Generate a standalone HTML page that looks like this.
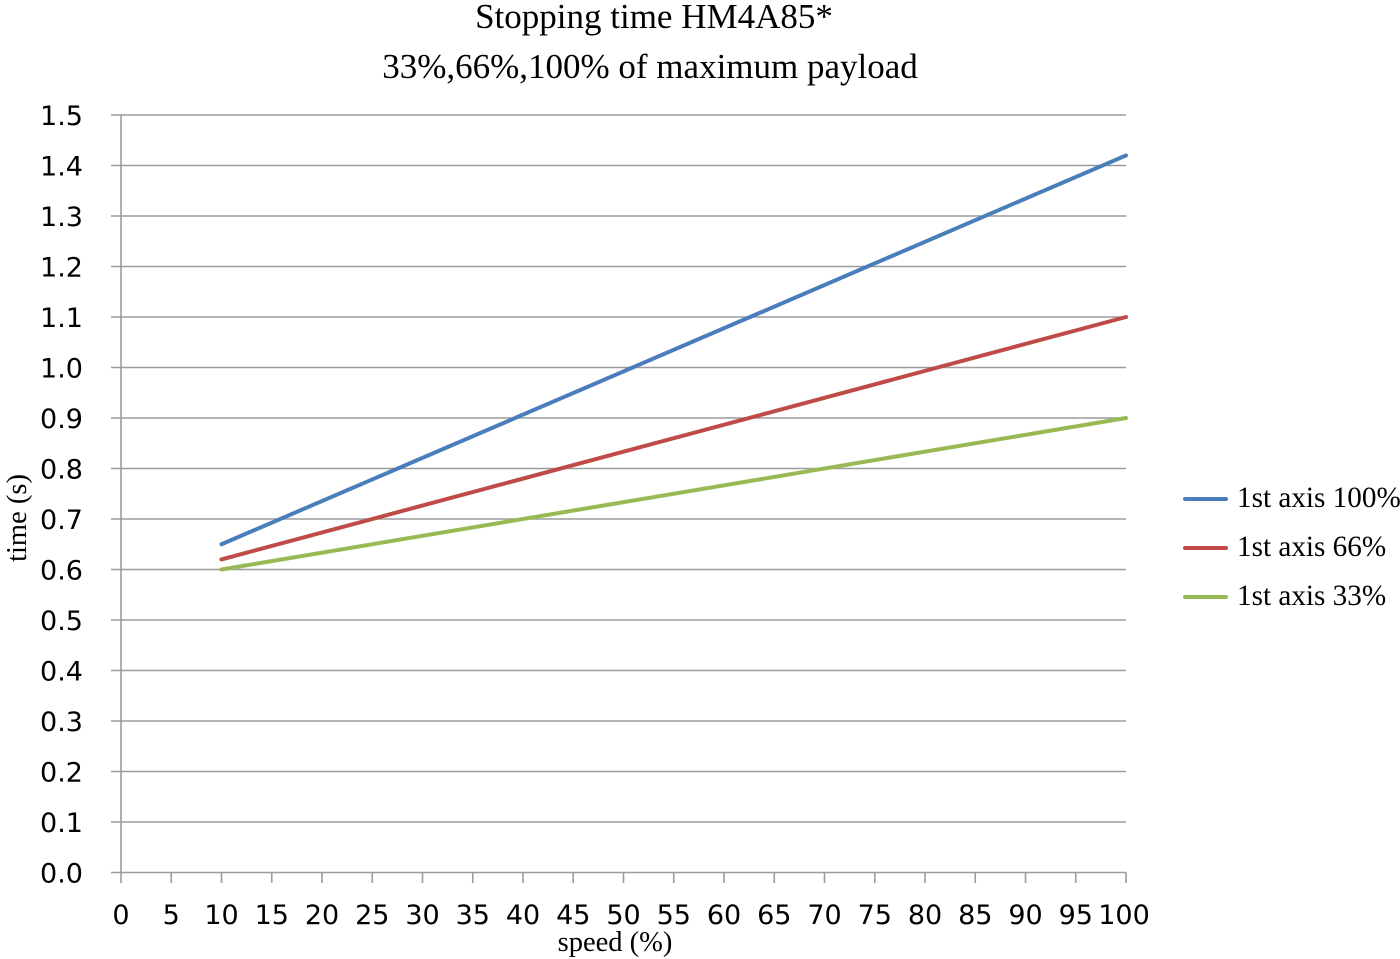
<!DOCTYPE html>
<html>
<head>
<meta charset="utf-8">
<style>
  html, body { margin:0; padding:0; background:#fff; }
  svg { display:block; }
  .tick { font-family: "DejaVu Sans", "Liberation Sans", sans-serif; font-size:27px; fill:#000; }
  .serif { font-family: "Liberation Serif", serif; fill:#000; }
</style>
</head>
<body>
<svg width="1400" height="959" viewBox="0 0 1400 959" xmlns="http://www.w3.org/2000/svg">
  <rect width="1400" height="959" fill="#fff"/>
  <!-- Title -->
  <text class="serif" x="654" y="28" font-size="35" text-anchor="middle">Stopping time HM4A85*</text>
  <text class="serif" x="650" y="78" font-size="35" text-anchor="middle">33%,66%,100% of maximum payload</text>

  <!-- Gridlines -->
  <g stroke="#9c9c9c" stroke-width="1.6">
    <line x1="111" y1="115" x2="1126" y2="115"/>
    <line x1="111" y1="165.5" x2="1126" y2="165.5"/>
    <line x1="111" y1="216" x2="1126" y2="216"/>
    <line x1="111" y1="266.5" x2="1126" y2="266.5"/>
    <line x1="111" y1="317" x2="1126" y2="317"/>
    <line x1="111" y1="367.5" x2="1126" y2="367.5"/>
    <line x1="111" y1="418" x2="1126" y2="418"/>
    <line x1="111" y1="468.5" x2="1126" y2="468.5"/>
    <line x1="111" y1="519" x2="1126" y2="519"/>
    <line x1="111" y1="569.5" x2="1126" y2="569.5"/>
    <line x1="111" y1="620" x2="1126" y2="620"/>
    <line x1="111" y1="670.5" x2="1126" y2="670.5"/>
    <line x1="111" y1="721" x2="1126" y2="721"/>
    <line x1="111" y1="771.5" x2="1126" y2="771.5"/>
    <line x1="111" y1="822" x2="1126" y2="822"/>
    <line x1="111" y1="872.5" x2="1126" y2="872.5"/>
    <!-- y axis -->
    <line x1="121" y1="115" x2="121" y2="883"/>
    <!-- x ticks -->
    <line x1="171.25" y1="872.5" x2="171.25" y2="883"/>
    <line x1="221.5" y1="872.5" x2="221.5" y2="883"/>
    <line x1="271.75" y1="872.5" x2="271.75" y2="883"/>
    <line x1="322" y1="872.5" x2="322" y2="883"/>
    <line x1="372.25" y1="872.5" x2="372.25" y2="883"/>
    <line x1="422.5" y1="872.5" x2="422.5" y2="883"/>
    <line x1="472.75" y1="872.5" x2="472.75" y2="883"/>
    <line x1="523" y1="872.5" x2="523" y2="883"/>
    <line x1="573.25" y1="872.5" x2="573.25" y2="883"/>
    <line x1="623.5" y1="872.5" x2="623.5" y2="883"/>
    <line x1="673.75" y1="872.5" x2="673.75" y2="883"/>
    <line x1="724" y1="872.5" x2="724" y2="883"/>
    <line x1="774.25" y1="872.5" x2="774.25" y2="883"/>
    <line x1="824.5" y1="872.5" x2="824.5" y2="883"/>
    <line x1="874.75" y1="872.5" x2="874.75" y2="883"/>
    <line x1="925" y1="872.5" x2="925" y2="883"/>
    <line x1="975.25" y1="872.5" x2="975.25" y2="883"/>
    <line x1="1025.5" y1="872.5" x2="1025.5" y2="883"/>
    <line x1="1075.75" y1="872.5" x2="1075.75" y2="883"/>
    <line x1="1126" y1="872.5" x2="1126" y2="883"/>
  </g>

  <!-- Y tick labels -->
  <g class="tick" text-anchor="end">
    <text x="83" y="125">1.5</text>
    <text x="83" y="175.5">1.4</text>
    <text x="83" y="226">1.3</text>
    <text x="83" y="276.5">1.2</text>
    <text x="83" y="327">1.1</text>
    <text x="83" y="377.5">1.0</text>
    <text x="83" y="428">0.9</text>
    <text x="83" y="478.5">0.8</text>
    <text x="83" y="529">0.7</text>
    <text x="83" y="579.5">0.6</text>
    <text x="83" y="630">0.5</text>
    <text x="83" y="680.5">0.4</text>
    <text x="83" y="731">0.3</text>
    <text x="83" y="781.5">0.2</text>
    <text x="83" y="832">0.1</text>
    <text x="83" y="882.5">0.0</text>
  </g>

  <!-- X tick labels -->
  <g class="tick" text-anchor="middle">
    <text x="121" y="924">0</text>
    <text x="171.25" y="924">5</text>
    <text x="221.5" y="924">10</text>
    <text x="271.75" y="924">15</text>
    <text x="322" y="924">20</text>
    <text x="372.25" y="924">25</text>
    <text x="422.5" y="924">30</text>
    <text x="472.75" y="924">35</text>
    <text x="523" y="924">40</text>
    <text x="573.25" y="924">45</text>
    <text x="623.5" y="924">50</text>
    <text x="673.75" y="924">55</text>
    <text x="724" y="924">60</text>
    <text x="774.25" y="924">65</text>
    <text x="824.5" y="924">70</text>
    <text x="874.75" y="924">75</text>
    <text x="925" y="924">80</text>
    <text x="975.25" y="924">85</text>
    <text x="1025.5" y="924">90</text>
    <text x="1075.75" y="924">95</text>
    <text x="1124" y="924">100</text>
  </g>

  <!-- Axis titles -->
  <text class="serif" font-size="28.5" text-anchor="middle" transform="translate(26,518) rotate(-90)">time (s)</text>
  <text class="serif" x="615" y="951" font-size="28.5" text-anchor="middle">speed (%)</text>

  <!-- Series -->
  <g stroke-width="4" stroke-linecap="round" fill="none">
    <line x1="221.5" y1="544.25" x2="1126" y2="155.4" stroke="#4a7ebb"/>
    <line x1="221.5" y1="559.4" x2="1126" y2="317" stroke="#be4b48"/>
    <line x1="221.5" y1="569.5" x2="1126" y2="418" stroke="#98b954"/>
  </g>

  <!-- Legend -->
  <g stroke-width="4" stroke-linecap="round">
    <line x1="1185" y1="499" x2="1226" y2="499" stroke="#4a7ebb"/>
    <line x1="1185" y1="548" x2="1226" y2="548" stroke="#be4b48"/>
    <line x1="1185" y1="597" x2="1226" y2="597" stroke="#98b954"/>
  </g>
  <g class="serif" font-size="29.2">
    <text x="1237" y="507">1st axis 100%</text>
    <text x="1237" y="556">1st axis 66%</text>
    <text x="1237" y="605">1st axis 33%</text>
  </g>
</svg>
</body>
</html>
